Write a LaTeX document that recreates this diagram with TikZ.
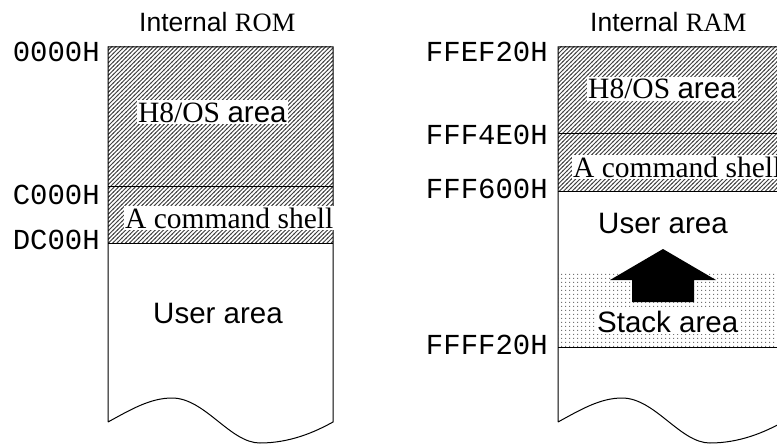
\documentclass[tikz,border=0pt]{standalone}
\usepackage{fontspec}
\setmainfont{Liberation Serif}
\setsansfont{Liberation Sans}
\setmonofont{Liberation Mono}
\usetikzlibrary{patterns}
\pgfdeclarepatternformonly{memhatch}{\pgfqpoint{-1pt}{-1pt}}{\pgfqpoint{5pt}{5pt}}{\pgfqpoint{4.2pt}{4.2pt}}{%
  \pgfsetlinewidth{0.9pt}%
  \pgfpathmoveto{\pgfqpoint{-0.5pt}{-0.5pt}}\pgfpathlineto{\pgfqpoint{4.7pt}{4.7pt}}\pgfusepath{stroke}}
\pgfdeclarepatternformonly{memdots}{\pgfqpoint{0pt}{0pt}}{\pgfqpoint{4pt}{4pt}}{\pgfqpoint{4pt}{4pt}}{%
  \pgfpathrectangle{\pgfqpoint{1.3pt}{1.3pt}}{\pgfqpoint{1.4pt}{1.4pt}}\pgfusepath{fill}}
\begin{document}
\begin{tikzpicture}[x=1pt,y=-1pt,
  addr/.style={anchor=base east,inner sep=0pt,font=\ttfamily\fontsize{29}{32}\selectfont},
  title/.style={anchor=base west,inner sep=0pt,font=\fontsize{26.5}{30}\selectfont},
  lab/.style={anchor=base west,fill=white,inner xsep=1pt,inner ysep=2pt,font=\fontsize{29.5}{32}\selectfont},
  hatch/.style={pattern=memhatch,pattern color=black!75},
  dotty/.style={pattern=memdots,pattern color=black!55},
  edge/.style={line width=1pt,draw=black}]
\useasboundingbox (0,0) rectangle (777,444);
\clip (0,0) rectangle (777,444);
% ---------- ROM ----------
\fill[hatch] (108,47) rectangle (333,243);
\draw[edge] (108,186) -- (333,186);
\draw[edge] (108,243) -- (333,243);
\draw[edge] (108,422) -- (108,47) -- (333,47) -- (333,422)
  .. controls (315,432) and (290,443) .. (260,443)
  .. controls (230,443) and (205,398) .. (172,398)
  .. controls (150,398) and (130,410) .. (108,422);
\node[title] (romt) at (139,32) {\sffamily Internal \rmfamily ROM};
\node[addr] (a1) at (100,62) {0000H};
\node[addr] (a2) at (100,204) {C000H};
\node[addr] (a3) at (100,249) {DC00H};
\node[lab] (r1) at (137,122) {H8/OS \sffamily area};
\node[lab] (r2) at (124,228) {A command shell};
\node[lab,fill=none] (r3) at (152,323) {\sffamily User area};
% ---------- RAM ----------
\fill[hatch] (558,47) rectangle (783,191);
\fill[dotty] (558,271) rectangle (783,347);
\draw[edge] (558,133) -- (783,133);
\draw[edge] (558,191) -- (783,191);
\draw[edge] (558,347) -- (783,347);
\draw[edge] (558,422) -- (558,47) -- (783,47) -- (783,422)
  .. controls (765,432) and (740,443) .. (710,443)
  .. controls (680,443) and (655,398) .. (622,398)
  .. controls (600,398) and (580,410) .. (558,422);
\node[title] (ramt) at (590,32) {\sffamily Internal \rmfamily RAM};
\node[addr] (b1) at (548,62) {FFEF20H};
\node[addr] (b2) at (548,144) {FFF4E0H};
\node[addr] (b3) at (548,198) {FFF600H};
\node[addr] (b4) at (548,354) {FFFF20H};
\node[lab] (s1) at (587,99) {H8/OS \sffamily area};
\node[lab] (s2) at (572,177) {A command shell};
\node[lab,fill=none] (s3) at (597,233) {\sffamily User area};
\node[lab] (s4) at (596,332) {\sffamily Stack area};
\fill[black] (632,302) -- (632,280) -- (610,280) -- (663,249) -- (716,280) -- (694,280) -- (694,302) -- cycle;
\end{tikzpicture}
\end{document}
